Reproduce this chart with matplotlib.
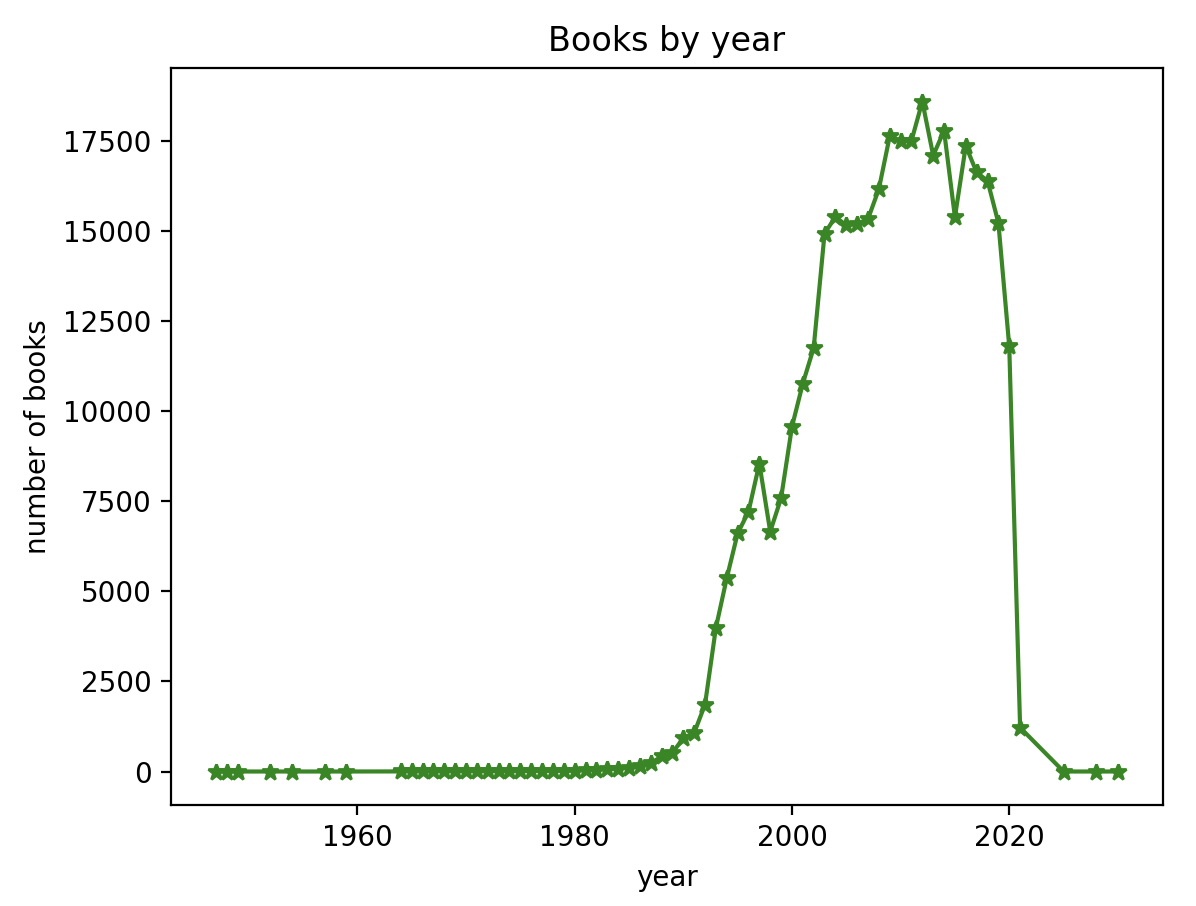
import matplotlib
matplotlib.use('Agg')
import matplotlib.pyplot as plt

# years and book counts
years = [1947, 1948, 1949, 1952, 1954, 1957, 1959,
         1964, 1965, 1966, 1967, 1968, 1969, 1970, 1971, 1972, 1973,
         1974, 1975, 1976, 1977, 1978, 1979, 1980, 1981, 1982, 1983,
         1984, 1985, 1986, 1987, 1988, 1989, 1990, 1991, 1992, 1993,
         1994, 1995, 1996, 1997, 1998, 1999, 2000, 2001, 2002, 2003,
         2004, 2005, 2006, 2007, 2008, 2009, 2010, 2011, 2012, 2013,
         2014, 2015, 2016, 2017, 2018, 2019, 2020, 2021, 2025, 2028, 2030]
books = [1, 1, 1, 1, 1, 1, 1,
         3, 4, 5, 5, 6, 7, 8, 9, 10, 11,
         12, 14, 16, 18, 20, 22, 25, 35, 45, 60,
         80, 110, 140, 230, 420, 520, 930, 1070, 1860, 3990,
         5370, 6610, 7210, 8550, 6660, 7590, 9570, 10770, 11760, 14930,
         15400, 15160, 15200, 15340, 16170, 17640, 17490, 17510, 18600, 17100,
         17790, 15390, 17370, 16630, 16400, 15230, 11800, 1220, 1, 1, 1]

fig = plt.figure(figsize=(5.98, 4.53), dpi=200)
ax = fig.add_axes([171 / 1196, 1 - 805 / 906, 992 / 1196, 737 / 906])

ax.plot(years, books, color='#3a8526', marker='*')
ax.set_title('Books by year')
ax.set_xlabel('year')
ax.set_ylabel('number of books')

fig.savefig('out.png', dpi=200)
